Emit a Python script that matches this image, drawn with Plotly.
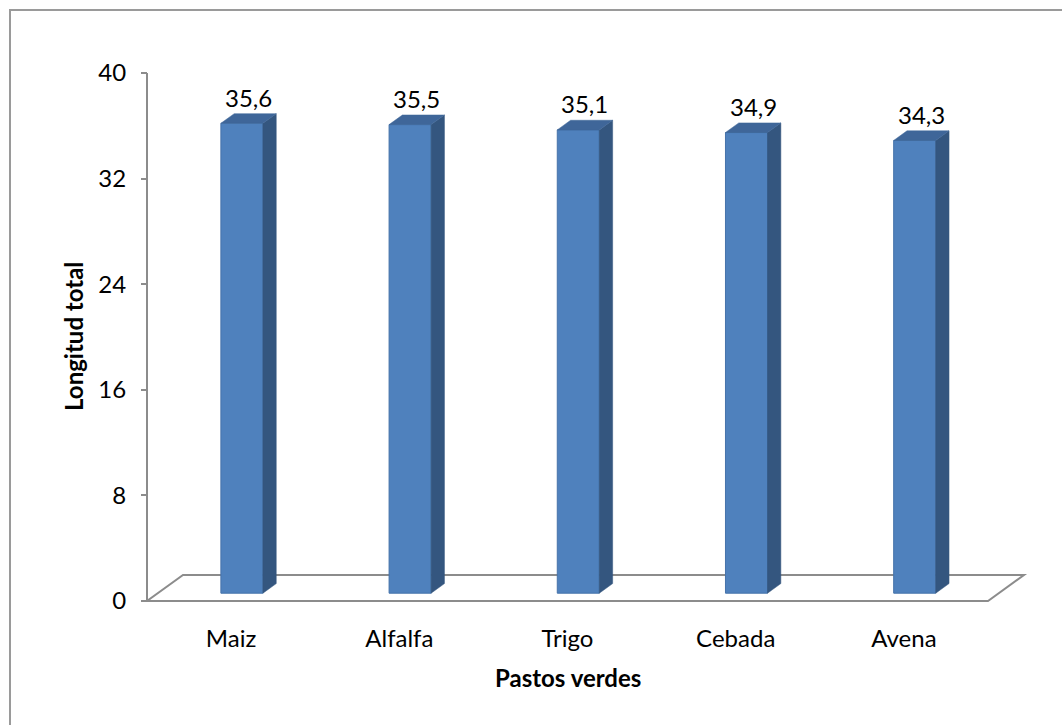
import plotly.graph_objects as go

# ---- data ----
categories = ["Maiz", "Alfalfa", "Trigo", "Cebada", "Avena"]
values = [35.6, 35.5, 35.1, 34.9, 34.3]
value_labels = ["35,6", "35,5", "35,1", "34,9", "34,3"]
y_ticks = [0, 8, 16, 24, 32, 40]
x_title = "Pastos verdes"
y_title = "Longitud total"

# ---- geometry (pixels) ----
W, H = 1062, 725
PL, PR, PT, PB = 137, 1035, 40, 615      # plot area edges
X0_PX = 147                               # left front corner of the floor
CAT_PX = 168.2                            # width of one category slot
Y0_PX, Y40_PX = 601, 73                   # pixel rows of y=0 and y=40
Y_PX = (Y0_PX - Y40_PX) / 40.0

x_range = [-0.5 - (X0_PX - PL) / CAT_PX, -0.5 + (PR - X0_PX) / CAT_PX]
y_range = [-(PB - Y0_PX) / Y_PX, 40 + (Y40_PX - PT) / Y_PX]

# oblique depth of the floor, in data units
DX = 36 / CAT_PX
DY = 26 / Y_PX
BAR_W = 0.25      # bar width in category units
BAR_K = 0.30      # bar front face position inside the floor depth
BAR_D = 0.37      # bar depth as a share of the floor depth

FRONT = "#4F81BD"
SIDE = "#34567F"
TOP = "#3F6699"
EDGE = "#4573AA"
GRID = "#8C8C8C"
FONT = "Lato"


def px_to_paper_x(px):
    return (px - PL) / (PR - PL)


def px_to_paper_y(py):
    return (PB - py) / (PB - PT)


fig = go.Figure()

for i, v in enumerate(values):
    xl = i - BAR_W / 2 + BAR_K * DX
    xr = xl + BAR_W
    yb = BAR_K * DY
    yt = yb + v
    ddx, ddy = BAR_D * DX, BAR_D * DY
    # front face
    fig.add_trace(go.Scatter(
        x=[xl, xr, xr, xl, xl], y=[yb, yb, yt, yt, yb],
        fill="toself", fillcolor=FRONT, mode="lines",
        line=dict(color=EDGE, width=1), hoverinfo="skip", showlegend=False))
    # right side face
    fig.add_trace(go.Scatter(
        x=[xr, xr + ddx, xr + ddx, xr, xr], y=[yb, yb + ddy, yt + ddy, yt, yb],
        fill="toself", fillcolor=SIDE, mode="lines",
        line=dict(color=SIDE, width=0.5), hoverinfo="skip", showlegend=False))
    # top face
    fig.add_trace(go.Scatter(
        x=[xl, xr, xr + ddx, xl + ddx, xl], y=[yt, yt, yt + ddy, yt + ddy, yt],
        fill="toself", fillcolor=TOP, mode="lines",
        line=dict(color=TOP, width=0.5), hoverinfo="skip", showlegend=False))
    # value label above the bar
    fig.add_annotation(
        x=i + BAR_K * DX + ddx / 2, y=yt + ddy, text=value_labels[i],
        showarrow=False, xanchor="center", yanchor="bottom", yshift=0,
        font=dict(family=FONT, size=24, color="#000000"))

n = len(categories)
shapes = [
    # floor parallelogram
    dict(type="path", xref="x", yref="y", layer="below",
         path=(f"M {-0.5} 0 L {n - 0.5} 0 L {n - 0.5 + DX} {DY} "
               f"L {-0.5 + DX} {DY} Z"),
         line=dict(color=GRID, width=2), fillcolor="rgba(0,0,0,0)"),
    # vertical value axis line
    dict(type="line", xref="x", yref="y", layer="below",
         x0=-0.5, x1=-0.5, y0=0, y1=y_ticks[-1],
         line=dict(color=GRID, width=2)),
    # chart area border
    dict(type="rect", xref="paper", yref="paper", layer="below",
         x0=px_to_paper_x(10), x1=px_to_paper_x(W + 20),
         y0=px_to_paper_y(H + 20), y1=px_to_paper_y(10),
         line=dict(color="#9A9A9A", width=2)),
]

fig.add_annotation(
    x=(n - 1) / 2, xref="x", y=px_to_paper_y(677), yref="paper",
    xanchor="center", yanchor="middle",
    text=f"<b>{x_title}</b>", showarrow=False,
    font=dict(family=FONT, size=24, color="#000000"))
fig.add_annotation(
    x=px_to_paper_x(73), xref="paper", y=px_to_paper_y(337), yref="paper",
    xanchor="center", yanchor="middle",
    text=f"<b>{y_title}</b>", showarrow=False, textangle=-90,
    font=dict(family=FONT, size=24, color="#000000"))

fig.update_layout(
    width=W, height=H,
    margin=dict(l=PL, r=W - PR, t=PT, b=H - PB, pad=0),
    paper_bgcolor="white", plot_bgcolor="white",
    shapes=shapes,
    xaxis=dict(range=x_range, tickmode="array", tickvals=list(range(n)),
               ticktext=categories, ticks="", showline=False,
               showgrid=False, zeroline=False, fixedrange=True,
               ticklabelstandoff=7,
               tickfont=dict(family=FONT, size=24, color="#000000")),
    yaxis=dict(range=y_range, tickmode="array", tickvals=y_ticks,
               anchor="free", position=px_to_paper_x(X0_PX),
               ticks="outside", ticklen=6, tickwidth=2, tickcolor=GRID,
               showline=False, showgrid=False, zeroline=False,
               ticklabelstandoff=10, fixedrange=True,
               tickfont=dict(family=FONT, size=24, color="#000000")),
)

fig.write_html("out.html")
